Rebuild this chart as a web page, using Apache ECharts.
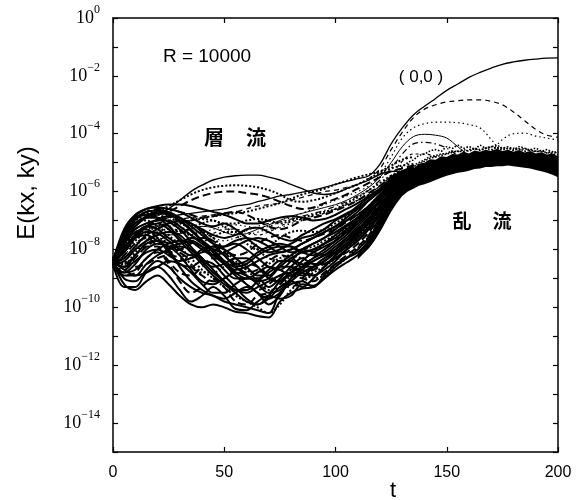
<!DOCTYPE html>
<html>
<head>
<meta charset="utf-8">
<script src="https://cdn.jsdelivr.net/npm/echarts@6/dist/echarts.min.js"></script>
<style>
html, body { margin: 0; padding: 0; background: #fff; }
#chart { width: 584px; height: 500px; }
</style>
</head>
<body>
<div id="chart"></div>
<script>
// values are log10 E(kx, ky)
const tLam = [0, 5, 10, 15, 20, 25, 30, 35, 40, 45, 50, 55, 60, 65, 70, 75, 80, 85, 90, 95, 100, 105, 110, 115, 120, 125, 130, 135];
const tFull = [0, 5, 10, 15, 20, 25, 30, 35, 40, 45, 50, 55, 60, 65, 70, 75, 80, 85, 90, 95, 100, 105, 110, 115, 120, 125, 130, 135, 140, 145, 150, 155, 160, 165, 170, 175, 180, 185, 190, 195, 200];
const tBand = [110, 112.5, 115, 117.5, 120, 122.5, 125, 127.5, 130, 132.5, 135, 137.5, 140, 142.5, 145, 147.5, 150, 152.5, 155, 157.5, 160, 162.5, 165, 167.5, 170, 172.5, 175, 177.5, 180, 182.5, 185, 187.5, 190, 192.5, 195, 197.5, 200];
const tNoise = [125, 127.5, 130, 132.5, 135, 137.5, 140, 142.5, 145, 147.5, 150, 152.5, 155, 157.5, 160, 162.5, 165, 167.5, 170, 172.5, 175, 177.5, 180, 182.5, 185, 187.5, 190, 192.5, 195, 197.5, 200];

// laminar bundle (t = 0..135)
const bundle = [
  [-8.4, -9.2, -9.4, -9.1, -8.9, -9.2, -9.6, -9.9, -10.0, -9.9, -10.0, -10.15, -10.2, -10.3, -10.35, -9.8, -9.5, -9.35, -9.3, -9.0, -8.7, -8.45, -8.2, -7.9, -7.3, -6.6, -6.0, -5.8],
  [-8.5, -9.3, -9.3, -8.8, -8.6, -8.9, -9.4, -9.8, -9.6, -9.3, -9.6, -10.05, -10.1, -9.8, -9.6, -9.7, -9.6, -9.2, -9.25, -9.0, -8.6, -8.3, -8.1, -7.7, -7.1, -6.5, -5.95, -5.7],
  [-8.3, -8.9, -8.8, -8.3, -8.1, -8.5, -9.1, -9.5, -9.3, -9.0, -9.3, -9.8, -9.9, -9.6, -9.5, -9.2, -8.9, -9.0, -9.1, -8.8, -8.5, -8.2, -7.9, -7.5, -6.9, -6.4, -5.9, -5.6],
  [-8.4, -8.6, -8.2, -7.8, -7.7, -8.0, -8.6, -9.1, -9.4, -9.6, -9.7, -9.5, -9.3, -9.5, -9.9, -9.6, -9.0, -8.7, -8.9, -8.7, -8.4, -8.0, -7.7, -7.3, -6.8, -6.2, -5.8, -5.5],
  [-8.5, -7.6, -7.1, -7.0, -7.2, -7.5, -7.9, -8.3, -8.7, -9.0, -9.3, -9.6, -9.8, -10.0, -10.2, -9.9, -9.4, -9.1, -8.8, -8.6, -8.3, -8.0, -7.6, -7.1, -6.6, -6.1, -5.7, -5.45],
  [-8.4, -7.4, -6.9, -6.8, -6.9, -7.2, -7.6, -8.0, -8.4, -8.8, -9.1, -9.4, -9.5, -9.3, -9.1, -8.9, -8.8, -8.9, -8.6, -8.3, -8.1, -7.8, -7.5, -7.0, -6.5, -6.0, -5.6, -5.4],
  [-8.3, -7.8, -7.4, -7.3, -7.6, -8.1, -8.5, -8.6, -8.4, -8.5, -8.9, -9.3, -9.7, -9.9, -9.7, -9.3, -9.1, -9.3, -9.0, -8.6, -8.2, -7.9, -7.6, -7.2, -6.7, -6.2, -5.8, -5.6],
  [-8.6, -8.2, -7.8, -7.6, -7.9, -8.4, -8.8, -8.9, -8.6, -8.3, -8.4, -8.8, -9.2, -9.4, -9.2, -8.9, -8.7, -8.5, -8.7, -8.4, -8.0, -7.7, -7.3, -6.9, -6.4, -5.9, -5.55, -5.35],
  [-8.5, -8.8, -8.5, -8.0, -7.8, -7.9, -8.2, -8.7, -9.1, -9.2, -9.0, -8.8, -8.9, -9.2, -9.5, -9.4, -9.0, -8.7, -8.4, -8.2, -8.0, -7.6, -7.2, -6.8, -6.3, -5.9, -5.5, -5.3],
  [-8.4, -8.0, -7.5, -7.2, -7.3, -7.6, -7.8, -7.7, -7.9, -8.3, -8.7, -9.0, -9.0, -8.8, -8.6, -8.7, -8.9, -8.6, -8.3, -8.1, -7.8, -7.5, -7.1, -6.7, -6.3, -5.85, -5.5, -5.3],
  [-8.3, -7.5, -7.0, -6.8, -6.8, -7.0, -7.3, -7.5, -7.4, -7.6, -8.0, -8.4, -8.7, -8.8, -8.5, -8.3, -8.2, -8.3, -8.1, -7.8, -7.5, -7.2, -6.9, -6.5, -6.1, -5.7, -5.4, -5.2],
  [-8.5, -7.6, -6.95, -6.7, -6.65, -6.7, -6.9, -7.2, -7.5, -7.8, -7.9, -7.8, -8.0, -8.3, -8.6, -8.7, -8.4, -8.0, -7.8, -7.6, -7.3, -7.0, -6.7, -6.3, -5.95, -5.6, -5.35, -5.2],
  [-8.4, -7.3, -6.8, -6.6, -6.55, -6.6, -6.7, -6.9, -7.1, -7.2, -7.1, -7.3, -7.6, -7.9, -8.1, -8.0, -7.8, -7.6, -7.5, -7.3, -7.0, -6.8, -6.5, -6.2, -5.9, -5.55, -5.3, -5.15],
  [-8.5, -8.4, -8.0, -7.7, -7.5, -7.4, -7.5, -7.9, -8.3, -8.6, -8.5, -8.3, -8.3, -8.6, -9.0, -9.1, -8.8, -8.4, -8.1, -7.9, -7.7, -7.4, -7.0, -6.6, -6.2, -5.8, -5.45, -5.25],
  [-8.6, -8.7, -8.3, -7.9, -7.7, -7.8, -8.1, -8.3, -8.1, -7.9, -8.1, -8.5, -8.8, -8.7, -8.4, -8.2, -8.3, -8.5, -8.3, -8.0, -7.7, -7.3, -6.95, -6.6, -6.2, -5.8, -5.5, -5.3],
  [-8.4, -9.0, -9.1, -8.7, -8.4, -8.6, -9.0, -9.3, -9.5, -9.6, -9.8, -9.9, -10.0, -10.1, -10.2, -9.5, -9.2, -9.1, -9.3, -8.9, -8.5, -8.3, -8.0, -7.6, -7.0, -6.4, -5.9, -5.65],
  [-8.5, -8.3, -7.9, -7.5, -7.3, -7.1, -7.0, -7.1, -7.4, -7.8, -8.2, -8.6, -8.9, -9.1, -9.0, -8.6, -8.3, -8.1, -8.0, -7.8, -7.5, -7.2, -6.9, -6.5, -6.1, -5.7, -5.4, -5.25],
  [-8.4, -7.7, -7.2, -6.9, -6.75, -6.8, -7.0, -7.3, -7.7, -8.1, -8.5, -8.9, -9.2, -9.5, -9.7, -9.5, -9.1, -8.8, -8.6, -8.4, -8.1, -7.8, -7.4, -7.0, -6.5, -6.0, -5.6, -5.4],
  [-8.5, -8.1, -7.7, -7.4, -7.2, -7.1, -7.05, -7.0, -6.95, -7.0, -7.1, -7.1, -7.0, -6.95, -7.0, -7.1, -7.0, -6.9, -6.8, -6.7, -6.6, -6.4, -6.2, -5.95, -5.7, -5.45, -5.3, -5.15],
  [-8.4, -7.5, -7.0, -6.8, -6.7, -6.5, -6.3, -6.1, -5.95, -5.85, -5.8, -5.78, -5.8, -5.85, -5.95, -6.1, -6.3, -6.35, -6.3, -6.2, -6.05, -5.9, -5.75, -5.55, -5.35, -5.2, -5.1, -5.05],
  [-8.5, -7.6, -7.1, -6.9, -6.8, -6.7, -6.5, -6.3, -6.15, -6.05, -6.0, -6.0, -6.05, -6.1, -6.2, -6.35, -6.5, -6.6, -6.55, -6.4, -6.25, -6.1, -5.9, -5.7, -5.5, -5.3, -5.2, -5.1],
  [-8.5, -7.9, -7.5, -7.3, -7.2, -7.2, -7.1, -7.0, -6.9, -6.85, -6.8, -6.75, -6.7, -6.6, -6.5, -6.4, -6.25, -6.1, -6.0, -5.9, -5.75, -5.62, -5.5, -5.4, -5.3, -5.1, -4.9, -4.8],
  [-8.6, -8.9, -8.9, -8.5, -8.2, -8.0, -7.9, -8.0, -8.3, -8.7, -9.1, -9.4, -9.4, -9.1, -8.8, -8.6, -8.6, -8.8, -8.9, -8.6, -8.2, -7.9, -7.5, -7.1, -6.6, -6.1, -5.7, -5.5],
  [-8.3, -7.9, -7.6, -7.5, -7.7, -7.9, -7.8, -7.6, -7.7, -8.0, -8.4, -8.7, -8.6, -8.4, -8.2, -8.1, -8.0, -7.8, -7.6, -7.4, -7.2, -6.9, -6.6, -6.3, -5.95, -5.6, -5.35, -5.2],
  [-8.5, -7.5, -6.9, -6.7, -6.6, -6.6, -6.7, -6.8, -6.9, -6.85, -6.75, -6.7, -6.8, -7.0, -7.2, -7.3, -7.2, -7.0, -6.9, -6.8, -6.65, -6.5, -6.3, -6.05, -5.8, -5.5, -5.3, -5.2],
  [-8.4, -7.7, -7.3, -7.1, -7.0, -7.0, -7.2, -7.5, -7.8, -8.0, -7.9, -7.7, -7.6, -7.7, -7.9, -8.1, -8.0, -7.8, -7.6, -7.4, -7.2, -7.0, -6.8, -6.5, -6.1, -5.75, -5.45, -5.25],
  [-8.5, -8.5, -8.1, -7.7, -7.4, -7.3, -7.35, -7.5, -7.7, -7.6, -7.4, -7.4, -7.6, -8.0, -8.3, -8.4, -8.2, -8.0, -7.9, -7.7, -7.5, -7.25, -7.0, -6.7, -6.3, -5.9, -5.55, -5.35],
  [-8.4, -8.1, -7.6, -7.2, -6.95, -6.85, -6.9, -7.1, -7.3, -7.5, -7.6, -7.5, -7.3, -7.25, -7.4, -7.6, -7.7, -7.5, -7.3, -7.1, -6.95, -6.75, -6.55, -6.3, -6.0, -5.65, -5.4, -5.25],
  [-8.5, -8.6, -8.4, -8.1, -8.0, -8.2, -8.4, -8.3, -8.0, -7.9, -8.0, -8.3, -8.6, -8.9, -8.9, -8.5, -8.2, -8.0, -8.1, -8.2, -8.0, -7.7, -7.35, -6.95, -6.5, -6.0, -5.6, -5.4],
  [-8.3, -8.4, -8.6, -8.5, -8.3, -8.2, -8.3, -8.6, -8.9, -9.1, -9.0, -8.7, -8.5, -8.6, -8.9, -9.2, -9.3, -9.0, -8.7, -8.5, -8.3, -8.1, -7.8, -7.4, -6.9, -6.35, -5.85, -5.6],
  [-8.4, -8.7, -8.9, -8.8, -8.6, -8.4, -8.5, -8.8, -9.2, -9.5, -9.5, -9.2, -9.0, -9.0, -9.3, -9.0, -8.6, -8.3, -8.5, -8.5, -8.3, -8.0, -7.7, -7.3, -6.8, -6.3, -5.85, -5.6],
  [-8.5, -7.8, -7.2, -6.85, -6.7, -6.75, -7.0, -7.35, -7.7, -8.1, -8.4, -8.6, -8.5, -8.2, -8.0, -7.9, -7.9, -8.1, -8.2, -8.0, -7.7, -7.4, -7.1, -6.75, -6.35, -5.9, -5.5, -5.3],
  [-8.4, -7.6, -7.0, -6.75, -6.7, -6.85, -7.1, -7.2, -7.1, -7.0, -7.2, -7.5, -7.8, -8.0, -7.9, -7.6, -7.4, -7.35, -7.4, -7.3, -7.1, -6.85, -6.6, -6.3, -5.95, -5.6, -5.35, -5.2],
  [-8.6, -8.0, -7.6, -7.4, -7.45, -7.7, -8.0, -8.2, -8.1, -8.0, -8.2, -8.5, -8.4, -8.1, -7.9, -7.8, -7.9, -8.1, -8.0, -7.8, -7.6, -7.3, -7.0, -6.6, -6.2, -5.8, -5.45, -5.25],
  [-8.5, -8.0, -7.5, -7.2, -7.1, -7.3, -7.7, -8.1, -8.5, -8.9, -9.2, -9.5, -9.8, -9.9, -9.6, -9.1, -8.8, -8.6, -8.4, -8.2, -7.9, -7.6, -7.3, -6.9, -6.45, -6.0, -5.6, -5.4],
  [-8.4, -8.5, -8.2, -7.9, -7.9, -8.1, -8.0, -7.8, -7.6, -7.7, -8.0, -8.2, -8.1, -7.8, -7.6, -7.5, -7.6, -7.7, -7.6, -7.45, -7.3, -7.05, -6.8, -6.5, -6.15, -5.75, -5.45, -5.25],
  [-8.5, -7.4, -6.85, -6.6, -6.5, -6.45, -6.45, -6.5, -6.6, -6.7, -6.8, -6.95, -7.1, -7.1, -7.0, -6.9, -6.85, -6.9, -7.0, -6.95, -6.8, -6.6, -6.4, -6.15, -5.9, -5.6, -5.35, -5.2],
  [-8.6, -8.8, -8.7, -8.3, -8.0, -7.8, -7.7, -7.75, -7.9, -8.2, -8.5, -8.8, -9.0, -9.0, -8.7, -8.4, -8.4, -8.6, -8.6, -8.4, -8.1, -7.8, -7.45, -7.05, -6.6, -6.1, -5.7, -5.45],
  [-8.4, -8.3, -7.9, -7.6, -7.6, -7.8, -8.1, -8.5, -8.8, -8.8, -8.6, -8.5, -8.7, -9.1, -9.4, -9.3, -8.9, -8.8, -9.0, -8.9, -8.6, -8.3, -7.95, -7.55, -7.0, -6.45, -5.95, -5.65],
  [-8.5, -7.7, -7.1, -6.9, -6.9, -7.05, -7.3, -7.7, -8.0, -8.2, -8.1, -7.9, -7.7, -7.6, -7.7, -7.9, -8.1, -8.0, -7.8, -7.6, -7.4, -7.15, -6.9, -6.55, -6.15, -5.75, -5.45, -5.3]
];
const bundleTypes = ['solid', 'solid', 'dashed', 'solid', 'dotted', 'solid', 'solid', 'dashed', 'solid', 'solid',
  'dotted', 'solid', 'solid', 'solid', 'dashed', 'solid', 'solid', 'solid', 'dotted', 'dotted',
  'dashed', 'dotted', 'solid', 'solid', 'dashed', 'solid', 'dotted', 'solid', 'solid', 'dashed',
  'solid', 'solid', 'dotted', 'solid', 'solid', 'dashed', 'solid', 'solid', 'dotted', 'solid'];

// upper dome (solid) in laminar region
const dome = [-8.4, -7.6, -7.1, -6.9, -6.8, -6.6, -6.3, -6.0, -5.78, -5.6, -5.5, -5.45, -5.43, -5.43, -5.5, -5.6, -5.75, -5.9, -6.05, -6.1, -6.05, -5.9, -5.75, -5.6, -5.4, -5.3, -5.3, -5.2];

// modes leaving the band after transition (t = 0..200)
const mode00 = [-8.5, -7.8, -7.3, -7.1, -7.0, -6.9, -6.8, -6.75, -6.7, -6.65, -6.6, -6.5, -6.45, -6.35, -6.25, -6.15, -6.1, -6.02, -5.95, -5.85, -5.75, -5.65, -5.55, -5.45, -5.05, -4.35, -3.8, -3.35, -3.05, -2.78, -2.5, -2.28, -2.05, -1.88, -1.73, -1.6, -1.52, -1.46, -1.42, -1.39, -1.38];
const modeDash = [-8.5, -7.9, -7.4, -7.2, -7.1, -7.0, -6.95, -6.9, -6.85, -6.8, -6.75, -6.7, -6.6, -6.5, -6.45, -6.4, -6.3, -6.2, -6.1, -6.0, -5.95, -5.85, -5.75, -5.55, -5.2, -4.55, -3.95, -3.45, -3.15, -3.0, -2.9, -2.86, -2.83, -2.83, -2.88, -3.0, -3.25, -3.55, -3.85, -4.05, -4.12];
const modeDotA = [-8.4, -7.7, -7.3, -7.1, -7.0, -7.05, -7.2, -7.35, -7.4, -7.3, -7.2, -7.15, -7.2, -7.25, -7.2, -7.05, -6.9, -6.75, -6.6, -6.45, -6.3, -6.15, -6.0, -5.8, -5.4, -4.8, -4.15, -3.8, -3.65, -3.6, -3.6, -3.62, -3.68, -3.8, -4.2, -4.65, -4.8, -4.85, -4.9, -4.85, -4.9];
const modeDotB = [-8.5, -8.2, -7.8, -7.6, -7.5, -7.6, -7.7, -7.6, -7.5, -7.6, -7.7, -7.6, -7.5, -7.4, -7.3, -7.25, -7.1, -7.0, -6.9, -6.75, -6.6, -6.45, -6.3, -6.1, -5.8, -5.5, -5.3, -5.15, -5.0, -4.95, -4.9, -4.85, -4.8, -4.75, -4.6, -4.2, -4.0, -3.98, -4.08, -4.15, -4.22];
const modeThin = [-8.4, -8.0, -7.6, -7.4, -7.4, -7.5, -7.45, -7.3, -7.2, -7.25, -7.4, -7.5, -7.45, -7.3, -7.15, -7.0, -6.85, -6.75, -6.65, -6.55, -6.45, -6.3, -6.1, -5.85, -5.5, -5.0, -4.45, -4.1, -4.02, -4.05, -4.15, -4.45, -4.75, -4.85, -4.9, -4.85, -4.9, -4.95, -4.9, -4.95, -5.0];
const modeDashDot = [-8.5, -8.3, -8.0, -7.8, -7.7, -7.5, -7.35, -7.3, -7.35, -7.5, -7.6, -7.5, -7.35, -7.2, -7.1, -7.05, -6.95, -6.85, -6.75, -6.65, -6.5, -6.35, -6.15, -5.95, -5.6, -5.2, -4.7, -4.35, -4.3, -4.35, -4.5, -4.75, -4.9, -4.95, -4.9, -4.95, -5.0, -4.95, -5.0, -5.05, -5.1];
const modeShort = [-8.4, -7.9, -7.5, -7.25, -7.1, -7.2, -7.4, -7.6, -7.6, -7.45, -7.3, -7.3, -7.4, -7.5, -7.4, -7.2, -7.05, -6.95, -6.85, -6.75, -6.6, -6.45, -6.3, -6.1, -5.8, -5.45, -4.95, -4.7, -4.7, -4.8, -4.95, -5.0, -5.05, -5.0, -4.95, -5.0, -5.05, -5.0, -5.05, -5.1, -5.15];

// turbulent band edges (t = 110..200)
const bandLow = [-8.35, -8.15, -7.95, -7.7, -7.4, -7.05, -6.7, -6.4, -6.15, -6.0, -5.9, -5.8, -5.75, -5.68, -5.6, -5.52, -5.45, -5.4, -5.35, -5.32, -5.28, -5.22, -5.2, -5.15, -5.15, -5.12, -5.12, -5.1, -5.12, -5.15, -5.18, -5.2, -5.25, -5.3, -5.35, -5.42, -5.5];
const bandHigh = [-8.15, -7.9, -7.65, -7.35, -7.0, -6.65, -6.25, -5.9, -5.6, -5.35, -5.2, -5.05, -5.0, -4.88, -4.9, -4.78, -4.8, -4.7, -4.72, -4.62, -4.68, -4.58, -4.62, -4.55, -4.6, -4.52, -4.6, -4.55, -4.62, -4.56, -4.65, -4.6, -4.68, -4.64, -4.72, -4.68, -4.78];

// speckle on top of the band (t = 125..200)
const noise = [
  [-5.6, -5.35, -5.15, -5.0, -4.9, -4.75, -4.7, -4.6, -4.55, -4.6, -4.45, -4.5, -4.4, -4.5, -4.45, -4.55, -4.4, -4.5, -4.45, -4.4, -4.5, -4.45, -4.55, -4.45, -4.5, -4.55, -4.5, -4.6, -4.55, -4.65, -4.6],
  [-6.0, -5.7, -5.45, -5.3, -5.15, -5.05, -4.95, -4.85, -4.8, -4.75, -4.7, -4.65, -4.6, -4.62, -4.55, -4.5, -4.55, -4.5, -4.45, -4.5, -4.48, -4.52, -4.5, -4.55, -4.52, -4.58, -4.6, -4.62, -4.65, -4.7, -4.72],
  [-5.9, -5.6, -5.4, -5.25, -5.1, -5.0, -4.9, -4.8, -4.75, -4.7, -4.68, -4.6, -4.62, -4.55, -4.6, -4.52, -4.58, -4.5, -4.55, -4.48, -4.55, -4.5, -4.58, -4.52, -4.6, -4.55, -4.62, -4.58, -4.66, -4.62, -4.7]
];

const pair = (ts, ys) => ys.map((y, i) => [ts[i], y]);
const lineSeries = (ts, ys, type, width) => ({
  type: 'line', data: pair(ts, ys), smooth: 0.35, symbol: 'none', silent: true,
  lineStyle: { color: '#000', width: width, type: type }
});

const series = [];
bundle.forEach((ys, i) => series.push(lineSeries(tLam, ys, bundleTypes[i], 2)));
series.push(lineSeries(tLam, dome, 'solid', 1.4));
series.push({
  type: 'custom', silent: true, data: [0],
  renderItem: (params, api) => {
    const pts = [];
    tBand.forEach((t, i) => pts.push(api.coord([t, bandHigh[i]])));
    for (let i = tBand.length - 1; i >= 0; i--) pts.push(api.coord([tBand[i], bandLow[i]]));
    return { type: 'polygon', shape: { points: pts }, style: { fill: '#000' } };
  }
});
noise.forEach(ys => series.push(lineSeries(tNoise, ys, 'dotted', 1.6)));
series.push(lineSeries(tFull, mode00, 'solid', 1.3));
series.push(lineSeries(tFull, modeDash, [5, 4], 1.2));
series.push(lineSeries(tFull, modeDotA, [1.5, 3], 1.2));
series.push(lineSeries(tFull, modeDotB, [1.5, 3], 1.2));
series.push(lineSeries(tFull, modeThin, 'solid', 1));
series.push(lineSeries(tFull, modeDashDot, [6, 3, 1.5, 3], 1.2));
series.push(lineSeries(tFull, modeShort, [3, 3], 1.2));

const chart = echarts.init(document.getElementById('chart'));
const axisLine = { show: true, onZero: false, lineStyle: { color: '#000', width: 1.5 } };
const tick = { show: true, inside: true, length: 5, lineStyle: { color: '#000', width: 1.2 } };
chart.setOption({
  animation: false,
  backgroundColor: '#fff',
  grid: { left: 113, right: 26, top: 18, bottom: 48 },
  xAxis: [
    { type: 'value', min: 0, max: 200, interval: 50, axisLine: axisLine, axisTick: tick, splitLine: { show: false },
      axisLabel: { color: '#000', fontFamily: 'Liberation Sans', fontSize: 16, margin: 13 } },
    { type: 'value', position: 'top', min: 0, max: 200, interval: 50, axisLine: axisLine, axisTick: tick,
      splitLine: { show: false }, axisLabel: { show: false } }
  ],
  yAxis: [
    { type: 'value', min: -15, max: 0, interval: 1, axisLine: axisLine, axisTick: tick, splitLine: { show: false },
      axisLabel: {
        margin: 13,
        formatter: v => (v % 2 !== 0) ? '' : '{b|10}{s|' + (v === 0 ? '0' : '\u2212' + (-v)) + '}',
        rich: {
          b: { fontFamily: 'Liberation Serif', fontSize: 18, lineHeight: 28, color: '#000' },
          s: { fontFamily: 'Liberation Serif', fontSize: 12, lineHeight: 12, verticalAlign: 'top', color: '#000' }
        }
      } },
    { type: 'value', position: 'right', min: -15, max: 0, interval: 1, axisLine: axisLine, axisTick: tick,
      splitLine: { show: false }, axisLabel: { show: false } }
  ],
  graphic: [
    { type: 'text', x: 27, y: 193, rotation: Math.PI / 2,
      style: { text: 'E(kx, ky)', font: '24px "Liberation Sans"', fill: '#000', align: 'center', verticalAlign: 'middle' } },
    { type: 'text', x: 393, y: 491,
      style: { text: 't', font: '22px "Liberation Sans"', fill: '#000', align: 'center', verticalAlign: 'middle' } },
    { type: 'text', x: 207, y: 57,
      style: { text: 'R = 10000', font: '19px "Liberation Sans"', fill: '#000', align: 'center', verticalAlign: 'middle' } },
    { type: 'text', x: 421, y: 77,
      style: { text: '( 0,0 )', font: '17px "Liberation Sans"', fill: '#000', align: 'center', verticalAlign: 'middle' } },
    { type: 'text', x: 214, y: 137,
      style: { text: '層', font: 'bold 20px "Noto Sans CJK JP"', fill: '#000', align: 'center', verticalAlign: 'middle' } },
    { type: 'text', x: 256, y: 137,
      style: { text: '流', font: 'bold 20px "Noto Sans CJK JP"', fill: '#000', align: 'center', verticalAlign: 'middle' } },
    { type: 'text', x: 462, y: 221,
      style: { text: '乱', font: 'bold 19px "Noto Sans CJK JP"', fill: '#000', align: 'center', verticalAlign: 'middle' } },
    { type: 'text', x: 502, y: 221,
      style: { text: '流', font: 'bold 19px "Noto Sans CJK JP"', fill: '#000', align: 'center', verticalAlign: 'middle' } }
  ],
  series: series
});
</script>
</body>
</html>
